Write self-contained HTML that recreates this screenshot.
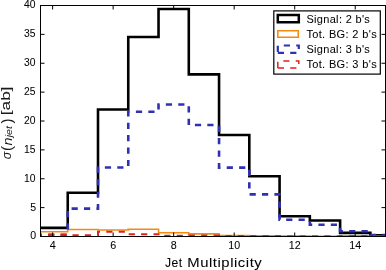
<!DOCTYPE html>
<html><head><meta charset="utf-8"><style>
html,body{margin:0;padding:0;background:#fff;}
body{width:386px;height:270px;overflow:hidden;}
svg{display:block;}
text{filter:grayscale(1);}
text{font-family:"Liberation Sans",sans-serif;}
</style></head><body>
<svg width="386" height="270" viewBox="0 0 386 270">
<defs><clipPath id="ax"><rect x="40.5" y="5.5" width="345" height="231"/></clipPath></defs>
<rect width="386" height="270" fill="#fff"/>
<g clip-path="url(#ax)" fill="none" stroke-linejoin="miter" stroke-linecap="butt">
<path d="M37.47,236.50 L37.47,227.84 L67.74,227.84 L67.74,192.73 L98.00,192.73 L98.00,109.45 L128.26,109.45 L128.26,36.97 L158.53,36.97 L158.53,8.97 L188.79,8.97 L188.79,74.40 L219.05,74.40 L219.05,134.98 L249.31,134.98 L249.31,176.21 L279.58,176.21 L279.58,216.29 L309.84,216.29 L309.84,220.50 L340.10,220.50 L340.10,232.92 L370.37,232.92 L370.37,235.34 L400.63,235.34 L400.63,236.50" stroke="#000" stroke-width="2.6"/>
<path d="M37.47,236.50 L37.47,231.82 L67.74,231.82 L67.74,229.51 L98.00,229.51 L98.00,230.03 L128.26,230.03 L128.26,229.28 L158.53,229.28 L158.53,232.80 L188.79,232.80 L188.79,233.90 L219.05,233.90 L219.05,235.52 L249.31,235.52 L249.31,235.92 L279.58,235.92 L279.58,236.15 L309.84,236.15 L309.84,236.21 L340.10,236.21 L340.10,235.69 L370.37,235.69 L370.37,236.33 L400.63,236.33 L400.63,236.50" stroke="#f58a10" stroke-width="1.6"/>
<path d="M37.47,236.50 L37.47,234.77 L67.74,234.77 L67.74,208.61 L98.00,208.61 L98.00,167.49 L128.26,167.49 L128.26,111.76 L158.53,111.76 L158.53,104.48 L188.79,104.48 L188.79,125.04 L219.05,125.04 L219.05,167.60 L249.31,167.60 L249.31,194.34 L279.58,194.34 L279.58,219.75 L309.84,219.75 L309.84,224.72 L340.10,224.72 L340.10,231.19 L370.37,231.19 L370.37,235.11 L400.63,235.11 L400.63,236.50" stroke="#3030b2" stroke-width="2.6" stroke-dasharray="6.2 6.2"/>
<path d="M37.47,236.50 L37.47,234.77 L67.74,234.77 L67.74,235.23 L98.00,235.23 L98.00,231.82 L128.26,231.82 L128.26,234.19 L158.53,234.19 L158.53,235.81 L188.79,235.81 L188.79,235.46 L219.05,235.46 L219.05,235.92 L249.31,235.92 L249.31,236.04 L279.58,236.04 L279.58,236.21 L309.84,236.21 L309.84,236.27 L340.10,236.27 L340.10,235.92 L370.37,235.92 L370.37,236.33 L400.63,236.33 L400.63,236.50" stroke="#e0201c" stroke-width="2" stroke-dasharray="6.2 6.2"/>
</g>
<g stroke="#000" stroke-width="1" fill="none"><line x1="40.5" x2="44.5" y1="207.62" y2="207.62"/><line x1="385.5" x2="381.5" y1="207.62" y2="207.62"/><line x1="40.5" x2="44.5" y1="178.75" y2="178.75"/><line x1="385.5" x2="381.5" y1="178.75" y2="178.75"/><line x1="40.5" x2="44.5" y1="149.88" y2="149.88"/><line x1="385.5" x2="381.5" y1="149.88" y2="149.88"/><line x1="40.5" x2="44.5" y1="121.00" y2="121.00"/><line x1="385.5" x2="381.5" y1="121.00" y2="121.00"/><line x1="40.5" x2="44.5" y1="92.12" y2="92.12"/><line x1="385.5" x2="381.5" y1="92.12" y2="92.12"/><line x1="40.5" x2="44.5" y1="63.25" y2="63.25"/><line x1="385.5" x2="381.5" y1="63.25" y2="63.25"/><line x1="40.5" x2="44.5" y1="34.38" y2="34.38"/><line x1="385.5" x2="381.5" y1="34.38" y2="34.38"/><line y1="236.5" y2="232.5" x1="52.61" x2="52.61"/><line y1="5.5" y2="9.5" x1="52.61" x2="52.61"/><line y1="236.5" y2="232.5" x1="113.13" x2="113.13"/><line y1="5.5" y2="9.5" x1="113.13" x2="113.13"/><line y1="236.5" y2="232.5" x1="173.66" x2="173.66"/><line y1="5.5" y2="9.5" x1="173.66" x2="173.66"/><line y1="236.5" y2="232.5" x1="234.18" x2="234.18"/><line y1="5.5" y2="9.5" x1="234.18" x2="234.18"/><line y1="236.5" y2="232.5" x1="294.71" x2="294.71"/><line y1="5.5" y2="9.5" x1="294.71" x2="294.71"/><line y1="236.5" y2="232.5" x1="355.24" x2="355.24"/><line y1="5.5" y2="9.5" x1="355.24" x2="355.24"/>
<rect x="40.5" y="5.5" width="345" height="231"/>
</g>
<g font-size="10.2" fill="#000" stroke="#000" stroke-width="0.05"><text x="30.30" y="239.45" textLength="5.9" lengthAdjust="spacingAndGlyphs">0</text><text x="30.30" y="210.57" textLength="5.9" lengthAdjust="spacingAndGlyphs">5</text><text x="24.10" y="181.70" textLength="11.5" lengthAdjust="spacingAndGlyphs">10</text><text x="24.10" y="152.82" textLength="11.5" lengthAdjust="spacingAndGlyphs">15</text><text x="24.10" y="123.95" textLength="11.5" lengthAdjust="spacingAndGlyphs">20</text><text x="24.10" y="95.08" textLength="11.5" lengthAdjust="spacingAndGlyphs">25</text><text x="24.10" y="66.20" textLength="11.5" lengthAdjust="spacingAndGlyphs">30</text><text x="24.10" y="37.33" textLength="11.5" lengthAdjust="spacingAndGlyphs">35</text><text x="24.10" y="8.45" textLength="11.5" lengthAdjust="spacingAndGlyphs">40</text><text x="49.71" y="249.1" textLength="6.0" lengthAdjust="spacingAndGlyphs">4</text><text x="110.23" y="249.1" textLength="6.0" lengthAdjust="spacingAndGlyphs">6</text><text x="170.76" y="249.1" textLength="6.0" lengthAdjust="spacingAndGlyphs">8</text><text x="228.33" y="249.1" textLength="11.9" lengthAdjust="spacingAndGlyphs">10</text><text x="288.86" y="249.1" textLength="11.9" lengthAdjust="spacingAndGlyphs">12</text><text x="349.39" y="249.1" textLength="11.9" lengthAdjust="spacingAndGlyphs">14</text></g>
<rect x="273.8" y="10.9" width="106.5" height="63.2" fill="#fff" stroke="#000" stroke-width="1.2"/>
<g fill="none">
<path d="M277.80,22.20 L298.80,22.20 L298.80,15.10 L277.80,15.10 Z" stroke="#000" stroke-width="2.5"/>
<path d="M277.80,37.20 L298.30,37.20 L298.30,30.70 L277.80,30.70 Z" stroke="#f58a10" stroke-width="1.6"/>
<path d="M277.80,52.90 L298.80,52.90 L298.80,45.50 L277.80,45.50 Z" stroke="#3030b2" stroke-width="2.2" stroke-dasharray="6.2 6.2"/>
<path d="M277.80,67.90 L298.80,67.90 L298.80,61.00 L277.80,61.00 Z" stroke="#e0201c" stroke-width="1.5" stroke-dasharray="6.2 6.2"/>
</g>
<g font-size="11.0" fill="#000" stroke="#000" stroke-width="0.05" letter-spacing="0.35"><text x="306.4" y="22.80" textLength="63.8" lengthAdjust="spacingAndGlyphs">Signal: 2 b's</text><text x="306.4" y="37.90" textLength="70.6" lengthAdjust="spacingAndGlyphs">Tot. BG: 2 b's</text><text x="306.4" y="53.00" textLength="63.8" lengthAdjust="spacingAndGlyphs">Signal: 3 b's</text><text x="306.4" y="68.10" textLength="70.6" lengthAdjust="spacingAndGlyphs">Tot. BG: 3 b's</text></g>
<g font-size="13.7" letter-spacing="0.5" fill="#000" stroke="#000" stroke-width="0.05"><text x="165.0" y="266.8" textLength="17.6" lengthAdjust="spacingAndGlyphs">Jet</text><text x="187.3" y="266.8" textLength="75.0" lengthAdjust="spacingAndGlyphs">Multiplicity</text></g>
<g transform="translate(11.3,0) rotate(-90)" fill="#1a1a1a">
<text x="-159.3" y="0.1" font-family="Liberation Serif" font-style="italic" font-size="12.5">σ</text>
<text x="-151" y="0.8" font-family="Liberation Serif" font-size="15">(</text>
<text x="-145.6" y="0.3" font-family="Liberation Serif" font-style="italic" font-size="12" textLength="8" lengthAdjust="spacingAndGlyphs">n</text>
<text x="-137.3" y="0.9" font-family="Liberation Serif" font-style="italic" font-size="8.7" textLength="11.2" lengthAdjust="spacingAndGlyphs">jet</text>
<text x="-123.4" y="1.1" font-family="Liberation Serif" font-size="15">)</text>
<text x="-115.2" y="-0.9" font-size="13.7" textLength="28.8" lengthAdjust="spacingAndGlyphs" stroke="#000" stroke-width="0.05">[ab]</text>
</g>
</svg>
</body></html>
